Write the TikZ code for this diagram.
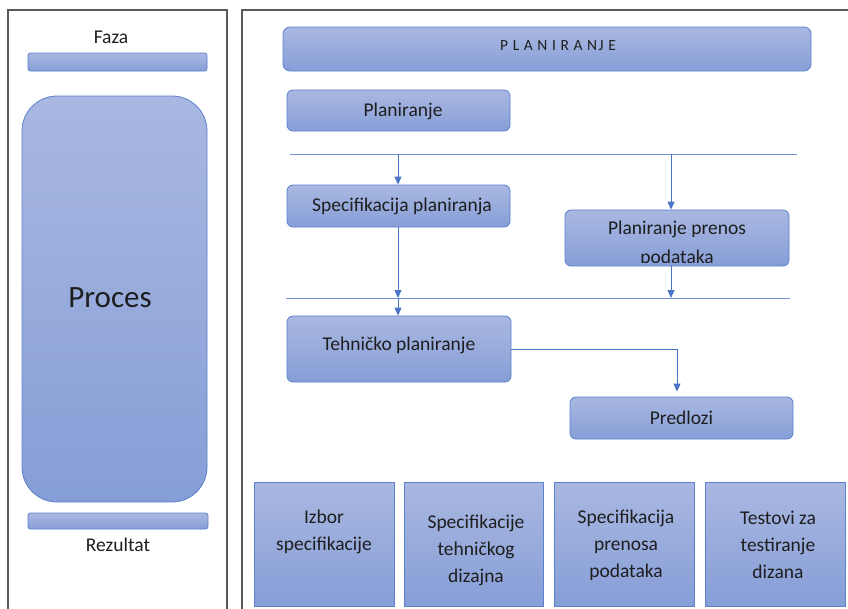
\documentclass[tikz,border=0pt]{standalone}
\usepackage{fontspec}
\setmainfont{Carlito}
\usetikzlibrary{arrows.meta}
\definecolor{boxtop}{HTML}{A9B8E1}
\definecolor{boxbot}{HTML}{869ED7}
\definecolor{boxline}{HTML}{5B80CC}
\definecolor{linkblue}{HTML}{4A74C6}
\definecolor{panelgray}{HTML}{5A5A5A}
\definecolor{txt}{HTML}{1E1E1E}
\newcommand{\gapk}{\kern4.6pt}
\begin{document}
\begin{tikzpicture}[x=1pt,y=-1pt,
  panel/.style={draw=panelgray,line width=1.1pt},
  box/.style={draw=boxline,line width=0.8pt,top color=boxtop,bottom color=boxbot,
    rounded corners=6pt,text=txt,font=\fontsize{19.5}{23}\selectfont,inner sep=0pt},
  bar/.style={box,rounded corners=2.5pt},
  sqbox/.style={box,rounded corners=0pt},
  label/.style={text=txt,font=\fontsize{19.5}{23}\selectfont,inner sep=0pt},
  blabel/.style={label,align=center,font=\fontsize{19.5}{27}\selectfont},
  link/.style={draw=linkblue,line width=0.9pt},
  arr/.style={link,-{Triangle[length=8pt,width=7pt]}},
  sep/.style={draw=boxline!85,line width=1pt}]
\useasboundingbox (0,0) rectangle (848,608);
\clip (0,0) rectangle (848,608);

% outer panels
\draw[panel] (8,640) -- (8,10) -- (227,10) -- (227,640);
\draw[panel] (242,640) -- (242,10) -- (880,10);

% legend column
\node[label] (faza) at (111,37) {Faza};
\node[bar,minimum width=179pt,minimum height=18pt] (fazabar) at (117.5,62) {};
\node[box,rounded corners=35pt,minimum width=185pt,minimum height=406pt] (proces) at (114.5,299) {};
\node[label,font=\fontsize{31}{36}\selectfont] (procest) at (110,298) {Proces};
\node[bar,minimum width=180pt,minimum height=16pt] (rezbar) at (118,521) {};
\node[label] (rez) at (118,545) {Rezultat};

% phase header
\node[box,rounded corners=7pt,minimum width=528pt,minimum height=44pt] (head) at (547,49) {};
\node[label,font=\fontsize{15.5}{18}\selectfont] (headt) at (558,46)
  {P\gapk L\gapk A\gapk N\gapk I\gapk R\gapk A\gapk N\kern1.5pt J\gapk E};

% process steps
\node[box,minimum width=223pt,minimum height=41pt] (plan) at (398.5,110.5) {};
\node[label] (plant) at (403,111) {Planiranje};
\node[box,minimum width=223pt,minimum height=42pt] (spec) at (398.5,206) {};
\node[label] (spect) at (402,206) {Specifikacija planiranja};
\node[box,minimum width=224pt,minimum height=56pt] (prenos) at (677,238) {};
\begin{scope}
  \clip (565.5,210.5) rectangle (788.5,262.5);
  \node[label] (prenos1) at (677,229) {Planiranje prenos};
  \node[label] (prenos2) at (677,258) {podataka};
\end{scope}
\node[box,minimum width=224pt,minimum height=66pt] (teh) at (399,349) {};
\node[label] (teht) at (399,345) {Tehničko planiranje};
\node[box,minimum width=223pt,minimum height=42pt] (pred) at (681.5,418) {Predlozi};

% separator lines
\coordinate (s1l) at (290,154);
\coordinate (s1r) at (797,154);
\coordinate (s2l) at (286,298);
\coordinate (s2r) at (790,298);
\draw[sep] (s1l) -- (s1r);
\draw[sep] (s2l) -- (s2r);

\coordinate (s1a) at (398,154);
\coordinate (s1b) at (671,154);
\coordinate (s2a) at (398,298);
\coordinate (s2b) at (671,298);

% connectors
\draw[arr] (s1a) -- (s1a |- spec.north);
\draw[arr] (s1b) -- (s1b |- prenos.north);
\draw[arr] (s1a |- spec.south) -- (s2a);
\draw[arr] (s2b |- prenos.south) -- (s2b);
\draw[arr] (s2a) -- (s2a |- teh.north);
\draw[arr,shorten >=5pt] (teh.east) -| (677,0 |- pred.north);

% deliverables
\node[sqbox,minimum width=140pt,minimum height=124pt] (d1) at (324,544) {};
\node[sqbox,minimum width=139pt,minimum height=124pt] (d2) at (473.5,544) {};
\node[sqbox,minimum width=140pt,minimum height=124pt] (d3) at (624,544) {};
\node[sqbox,minimum width=140pt,minimum height=124pt] (d4) at (775,544) {};
\node[blabel] (t1) at (324,532) {Izbor\\specifikacije};
\node[blabel] (t2) at (476,550) {Specifikacije\\tehničkog\\dizajna};
\node[blabel] (t3) at (626,545) {Specifikacija\\prenosa\\podataka};
\node[blabel] (t4) at (778,545) {Testovi za\\testiranje\\dizana};
\end{tikzpicture}
\end{document}
